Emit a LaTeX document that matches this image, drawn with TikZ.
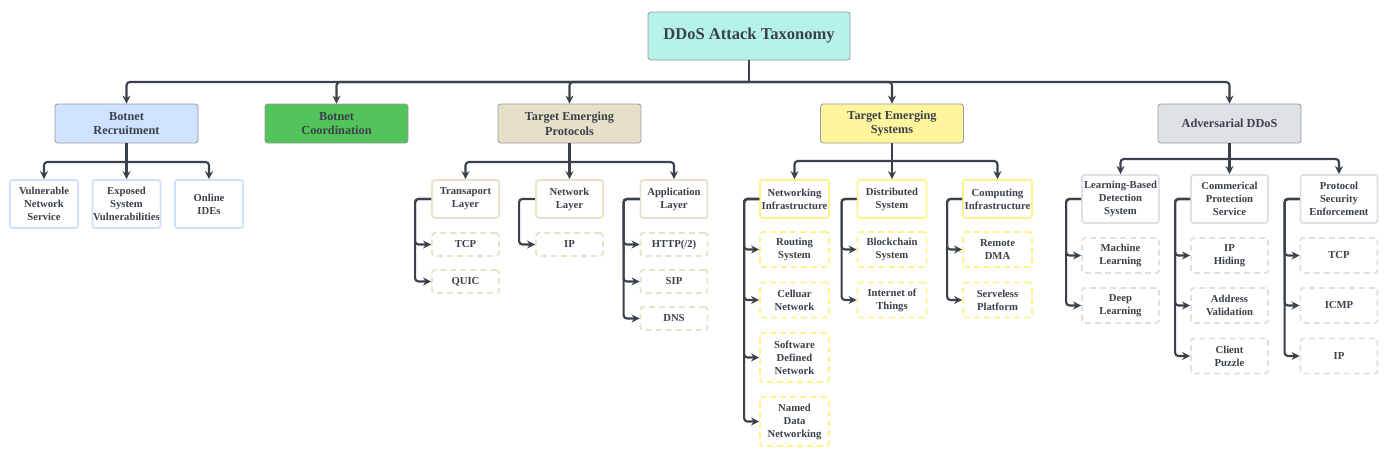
\documentclass[tikz,border=0pt]{standalone}
\usepackage{fontspec}
\setmainfont{Liberation Serif}
\usetikzlibrary{arrows.meta}

\definecolor{txtgray}{HTML}{3A414A}
\definecolor{linegray}{HTML}{3A414A}
\definecolor{rootfill}{HTML}{B5F2EA}
\definecolor{bluefill}{HTML}{CFE2FF}
\definecolor{greenfill}{HTML}{53C35B}
\definecolor{beigefill}{HTML}{E7E0C8}
\definecolor{yellowfill}{HTML}{FFF59D}
\definecolor{grayfill}{HTML}{DEE2E6}
\definecolor{blueline}{HTML}{CCE0FF}
\definecolor{beigeline}{HTML}{E9E2CB}
\definecolor{yellowline}{HTML}{FFF18C}
\definecolor{grayline}{HTML}{DDE0E4}

\tikzstyle{top} = [rectangle, rounded corners=2pt, draw=black!40, line width=0.6pt, fill=rootfill, minimum width=151.5pt, minimum height=36pt, inner sep=0pt, text centered, text=txtgray, font=\fontsize{12.4}{14}\selectfont\bfseries]
\tikzstyle{cat} = [rectangle, rounded corners=2pt, draw=black!40, line width=0.6pt, minimum width=107.25pt, minimum height=29.25pt, inner sep=0pt, align=center, text=txtgray, font=\fontsize{9.2}{11}\selectfont\bfseries]
\tikzstyle{sub} = [rectangle, rounded corners=2pt, fill=white, line width=1.4pt, inner sep=0pt, align=center, text=txtgray, font=\fontsize{8}{9.75}\selectfont\bfseries]
\tikzstyle{leaf} = [sub, dash pattern=on 4.5pt off 3pt]
\tikzstyle{recruitsub} = [sub, draw=blueline, minimum width=51pt, minimum height=36pt]
\tikzstyle{protosub} = [sub, draw=beigeline, minimum width=50.25pt, minimum height=28.5pt]
\tikzstyle{protoleaf} = [leaf, draw=beigeline, minimum width=50.25pt, minimum height=17.25pt]
\tikzstyle{syssub} = [sub, draw=yellowline, minimum width=51.75pt, minimum height=28.5pt]
\tikzstyle{sysleaf} = [leaf, draw=yellowline, minimum width=51.75pt, minimum height=26.25pt]
\tikzstyle{advsub} = [sub, draw=grayline, minimum width=57.75pt, minimum height=36pt]
\tikzstyle{advleaf} = [leaf, draw=grayline, minimum width=57.75pt, minimum height=26.25pt]
\tikzstyle{link} = [line width=1.6pt, draw=linegray]
\tikzstyle{arrow} = [link, rounded corners=2.5pt, -{Stealth[length=6pt,width=6pt]}]

\begin{document}
\begin{tikzpicture}[x=0.75pt, y=0.75pt]
\useasboundingbox (0,0) rectangle (1388,-454);

\node (taxo) [top] at (749,-36) {DDoS Attack Taxonomy};

\node (recruit) [cat, fill=bluefill] at (126.5,-123.5) {Botnet\\Recruitment};
\node (coord) [cat, fill=greenfill] at (336.5,-123.5) {Botnet\\Coordination};
\node (proto) [cat, fill=beigefill] at (569.5,-123.5) {Target Emerging\\Protocols};
\node (sys) [cat, fill=yellowfill] at (892,-123.5) {Target Emerging\\Systems};
\node (adv) [cat, fill=grayfill] at (1229.5,-123.5) {Adversarial DDoS};

\coordinate (bus0) at (749,-82);
\draw [link] (taxo.south) -- (bus0);
\foreach \n in {recruit,coord,proto,sys,adv}
  \draw [arrow] (bus0) -| (\n.north);

% botnet recruitment
\node (vuln) [recruitsub] at (44,-204) {Vulnerable\\Network\\Service};
\node (exposed) [recruitsub] at (126.5,-204) {Exposed\\System\\Vulnerabilities};
\node (ides) [recruitsub] at (209,-204) {Online\\IDEs};

\coordinate (bus1) at (126.5,-162);
\draw [link] (recruit.south) -- (bus1);
\draw [arrow] (bus1) -| (vuln.north);
\draw [arrow] (bus1) -- (exposed.north);
\draw [arrow] (bus1) -| (ides.north);

% target emerging protocols
\node (transp) [protosub] at (465.5,-199) {Transaport\\Layer};
\node (netl) [protosub] at (569.5,-199) {Network\\Layer};
\node (appl) [protosub] at (674,-199) {Application\\Layer};

\coordinate (bus2) at (569.5,-162);
\draw [link] (proto.south) -- (bus2);
\draw [arrow] (bus2) -| (transp.north);
\draw [arrow] (bus2) -- (netl.north);
\draw [arrow] (bus2) -| (appl.north);

\node (tcp) [protoleaf] at (465.5,-244.5) {TCP};
\node (quic) [protoleaf] at (465.5,-281.5) {QUIC};
\node (ip) [protoleaf] at (569.5,-244.5) {IP};
\node (http) [protoleaf] at (674,-244.5) {HTTP(/2)};
\node (sip) [protoleaf] at (674,-281.5) {SIP};
\node (dns) [protoleaf] at (674,-318.5) {DNS};

\foreach \n in {tcp,quic}
  \draw [arrow] (transp.west) -- ++(-16,0) |- (\n.west);
\draw [arrow] (netl.west) -- ++(-16,0) |- (ip.west);
\foreach \n in {http,sip,dns}
  \draw [arrow] (appl.west) -- ++(-16,0) |- (\n.west);

% target emerging systems
\node (netinf) [syssub] at (794.5,-199) {Networking\\Infrastructure};
\node (dist) [syssub] at (892,-199) {Distributed\\System};
\node (comp) [syssub] at (997.5,-199) {Computing\\Infrastructure};

\coordinate (bus3) at (892,-161);
\draw [link] (sys.south) -- (bus3);
\draw [arrow] (bus3) -| (netinf.north);
\draw [arrow] (bus3) -- (dist.north);
\draw [arrow] (bus3) -| (comp.north);

\node (routing) [sysleaf] at (794.5,-249.5) {Routing\\System};
\node (cell) [sysleaf] at (794.5,-300) {Celluar\\Network};
\node (sdn) [sysleaf, minimum height=36.75pt] at (794.5,-357.5) {Software\\Defined\\Network};
\node (ndn) [sysleaf, minimum height=36.75pt] at (794.5,-421.5) {Named\\Data\\Networking};
\node (block) [sysleaf] at (892,-249.5) {Blockchain\\System};
\node (iot) [sysleaf] at (892,-300) {Internet of\\Things};
\node (rdma) [sysleaf] at (997.5,-249.5) {Remote\\DMA};
\node (serverless) [sysleaf] at (997.5,-300) {Serveless\\Platform};

\foreach \n in {routing,cell,sdn,ndn}
  \draw [arrow] (netinf.west) -- ++(-15,0) |- (\n.west);
\foreach \n in {block,iot}
  \draw [arrow] (dist.west) -- ++(-15,0) |- (\n.west);
\foreach \n in {rdma,serverless}
  \draw [arrow] (comp.west) -- ++(-15,0) |- (\n.west);

% adversarial ddos
\node (learn) [advsub] at (1120.5,-199) {Learning-Based\\Detection\\System};
\node (comm) [advsub] at (1229.5,-199) {Commerical\\Protection\\Service};
\node (prot) [advsub] at (1339,-199) {Protocol\\Security\\Enforcement};

\coordinate (bus4) at (1229.5,-159);
\draw [link] (adv.south) -- (bus4);
\draw [arrow] (bus4) -| (learn.north);
\draw [arrow] (bus4) -- (comm.north);
\draw [arrow] (bus4) -| (prot.north);

\node (ml) [advleaf] at (1120.5,-255.5) {Machine\\Learning};
\node (dl) [advleaf] at (1120.5,-305.5) {Deep\\Learning};
\node (iphide) [advleaf] at (1229.5,-255.5) {IP\\Hiding};
\node (addr) [advleaf] at (1229.5,-305.5) {Address\\Validation};
\node (puzzle) [advleaf] at (1229.5,-356) {Client\\Puzzle};
\node (tcpsec) [advleaf] at (1339,-255.5) {TCP};
\node (icmp) [advleaf] at (1339,-305.5) {ICMP};
\node (ipsec) [advleaf] at (1339,-356) {IP};

\foreach \n in {ml,dl}
  \draw [arrow] (learn.west) -- ++(-15,0) |- (\n.west);
\foreach \n in {iphide,addr,puzzle}
  \draw [arrow] (comm.west) -- ++(-15,0) |- (\n.west);
\foreach \n in {tcpsec,icmp,ipsec}
  \draw [arrow] (prot.west) -- ++(-15,0) |- (\n.west);
%\draw [arrow] (adv) -- (prot);
\end{tikzpicture}
\end{document}
